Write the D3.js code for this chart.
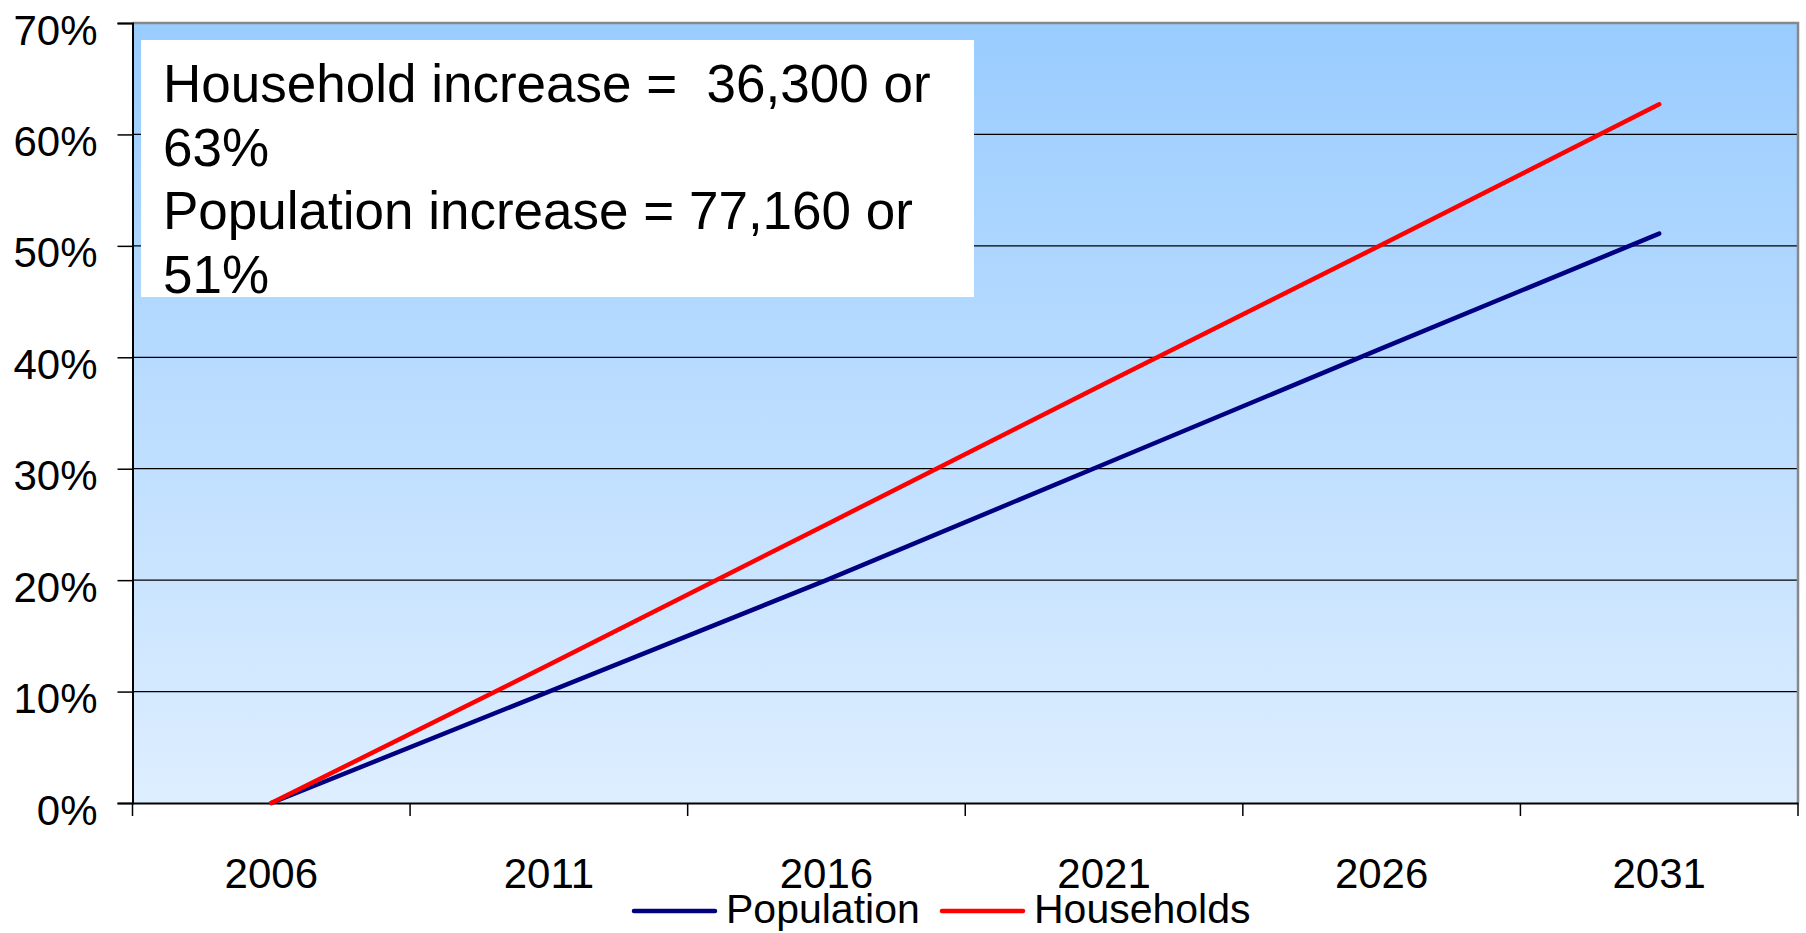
<!DOCTYPE html>
<html>
<head>
<meta charset="utf-8">
<script src="https://cdn.jsdelivr.net/npm/d3@7"></script>
<style>
  body { margin: 0; background: #fff; }
  text { font-family: "Liberation Sans", Arial, sans-serif; fill: #000; }
</style>
</head>
<body>
<div id="chart"></div>
<script>
// data (percent growth since 2006)
var years = ["2006", "2011", "2016", "2021", "2026", "2031"];
var population = [0, 10.0, 20.0, 30.4, 40.8, 51.1];
var households = [0, 12.4, 25.0, 37.6, 50.1, 62.7];
var yTicks = [0, 10, 20, 30, 40, 50, 60, 70];
var seriesNames = ["Population", "Households"];
var seriesColors = ["#000080", "#ff0000"];
var noteLines = [
  "Household increase =  36,300 or",
  "63%",
  "Population increase = 77,160 or",
  "51%"
];

var margin = {top: 23, right: 8, bottom: 130, left: 132.5},
    width = 1806 - margin.left - margin.right,
    height = 933 - margin.top - margin.bottom;

var svg = d3.select("#chart")
    .append("svg")
    .attr("width", 1806)
    .attr("height", 933)
    .append("g")
    .attr("transform", "translate(" + margin.left + "," + margin.top + ")");

// background gradient of the plot area
var grad = svg.append("defs").append("linearGradient")
    .attr("id", "bg")
    .attr("x1", 0).attr("y1", 0).attr("x2", 0).attr("y2", 1);
grad.append("stop").attr("offset", "0%").attr("stop-color", "#99ccff");
grad.append("stop").attr("offset", "100%").attr("stop-color", "#deeeff");

svg.append("rect")
    .attr("width", width)
    .attr("height", height)
    .attr("fill", "url(#bg)");

var x = d3.scaleBand()
    .domain(years)
    .range([0, width]);

var y = d3.scaleLinear()
    .domain([0, 70])
    .range([height, 0]);

// gridlines
svg.append("g")
    .selectAll("line")
    .data(yTicks.slice(1, -1))
    .enter()
    .append("line")
    .attr("x1", 0)
    .attr("x2", width)
    .attr("y1", function (d) { return y(d); })
    .attr("y2", function (d) { return y(d); })
    .attr("stroke", "#000")
    .attr("stroke-width", 1.2);

// top and right border
svg.append("path")
    .attr("d", "M0," + y(70) + "H" + width + "V" + height)
    .attr("fill", "none")
    .attr("stroke", "#888")
    .attr("stroke-width", 2.5);

// Y axis
var yAxis = svg.append("g")
    .call(d3.axisLeft(y)
        .tickValues(yTicks)
        .tickSize(15)
        .tickPadding(20)
        .tickFormat(function (d) { return d + "%"; }));
yAxis.select(".domain").attr("stroke", "#000").attr("stroke-width", 2);
yAxis.selectAll(".tick line").attr("stroke", "#000").attr("stroke-width", 1.5);
yAxis.selectAll("text")
    .attr("font-size", 42)
    .attr("dy", "0.5em")
    .style("font-family", "Liberation Sans, Arial, sans-serif");

// X axis: labels at band centres, ticks on band edges
var xAxis = svg.append("g")
    .attr("transform", "translate(0," + height + ")")
    .call(d3.axisBottom(x).tickSize(0).tickPadding(0));
xAxis.select(".domain").attr("stroke", "#000").attr("stroke-width", 2);
xAxis.selectAll("text")
    .attr("y", 85)
    .attr("dy", null)
    .attr("font-size", 42)
    .style("font-family", "Liberation Sans, Arial, sans-serif");

svg.append("g")
    .selectAll("line")
    .data(years.concat(["end"]))
    .enter()
    .append("line")
    .attr("x1", function (d, i) { return i < years.length ? x(d) : width; })
    .attr("x2", function (d, i) { return i < years.length ? x(d) : width; })
    .attr("y1", height)
    .attr("y2", height + 13)
    .attr("stroke", "#000")
    .attr("stroke-width", 1.5);

// lines
var line = d3.line()
    .x(function (d, i) { return x(years[i]) + x.bandwidth() / 2; })
    .y(function (d) { return y(d); });

[population, households].forEach(function (vals, k) {
    svg.append("path")
        .datum(vals)
        .attr("d", line)
        .attr("fill", "none")
        .attr("stroke", seriesColors[k])
        .attr("stroke-width", 4.5)
        .attr("stroke-linecap", "round")
        .attr("stroke-linejoin", "round");
});

// annotation box
var note = svg.append("g").attr("transform", "translate(" + (141 - margin.left) + "," + (40 - margin.top) + ")");
note.append("rect")
    .attr("width", 833)
    .attr("height", 257)
    .attr("fill", "#fff");
note.selectAll("text")
    .data(noteLines)
    .enter()
    .append("text")
    .attr("x", 22)
    .attr("y", function (d, i) { return 62 + i * 63.7; })
    .attr("font-size", 53)
    .style("white-space", "pre")
    .text(function (d) { return d; });

// legend
var legendX = [634 - margin.left, 942 - margin.left];
var legend = svg.append("g").attr("transform", "translate(0," + (911 - margin.top) + ")");
seriesNames.forEach(function (name, k) {
    legend.append("line")
        .attr("x1", legendX[k])
        .attr("x2", legendX[k] + 81)
        .attr("y1", 0)
        .attr("y2", 0)
        .attr("stroke", seriesColors[k])
        .attr("stroke-width", 4.5)
        .attr("stroke-linecap", "round");
    legend.append("text")
        .attr("x", legendX[k] + 92)
        .attr("y", 12)
        .attr("font-size", 41)
        .text(name);
});
</script>
</body>
</html>
